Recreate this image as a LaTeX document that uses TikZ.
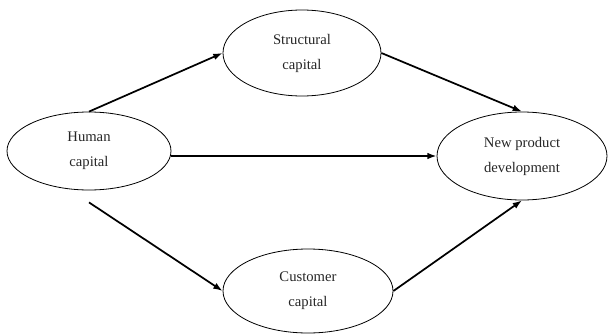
\documentclass[tikz,border=0pt]{standalone}
\usepackage{fontspec}
\setmainfont{Liberation Serif}
\usetikzlibrary{arrows.meta, calc, shapes.geometric}

\begin{document}
\begin{tikzpicture}[
    x=0.75pt, y=-0.75pt,
    capnode/.style={ellipse, draw=black, line width=0.6pt, inner sep=0pt, align=center, text=black!85, font=\fontsize{11}{18.75}\selectfont},
    link/.style={line width=1.3pt, -{Latex[length=7pt, width=5pt]}},
]
\useasboundingbox (0,0) rectangle (609,335);

% === Capitals ===
\node[capnode, minimum width=123pt, minimum height=58.5pt] (human) at (89, 151) {Human\\capital};
\node[capnode, minimum width=118.5pt, minimum height=64.5pt] (structural) at (302, 53) {Structural\\capital};
\node[capnode, minimum width=127.5pt, minimum height=63pt] (customer) at (308, 291) {Customer\\capital};

% === Outcome ===
\node[capnode, minimum width=127.5pt, minimum height=66pt] (npd) at (522, 156) {New product\\development};

% free start below Human capital
\coordinate (hbelow) at ($(human.south) + (0, 12)$);

% === Paths ===
\draw[link] (human.north) -- (structural.west);
\draw[link] (structural.east) -- (npd.north);
\draw[link] (human.east |- npd.west) -- (npd.west);
\draw[link] (hbelow) -- (customer.west);
\draw[link] (customer.east) -- (npd.south);
\end{tikzpicture}
\end{document}
